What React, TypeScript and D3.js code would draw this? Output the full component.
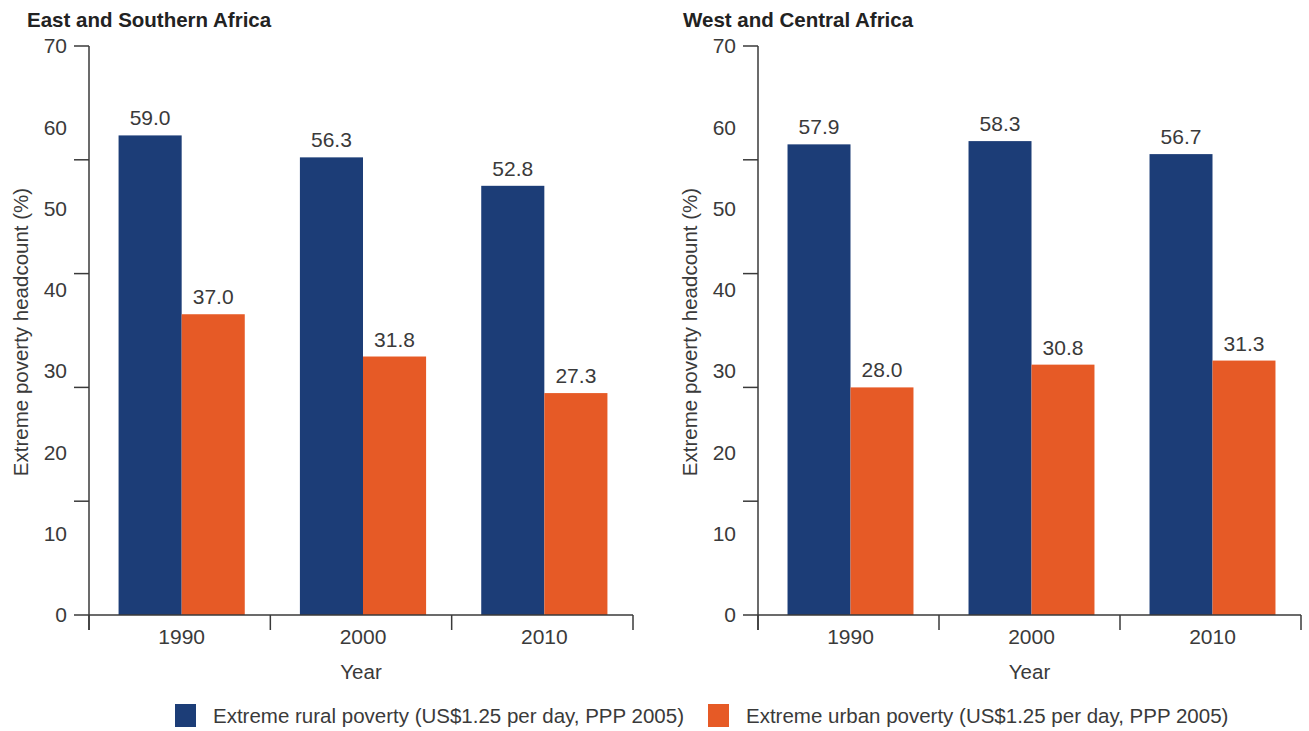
import React from "react";
import * as d3 from "d3";

const years = ["1990", "2000", "2010"];
const seriesNames = [
  "Extreme rural poverty (US$1.25 per day, PPP 2005)",
  "Extreme urban poverty (US$1.25 per day, PPP 2005)",
];
const esaRural = [59.0, 56.3, 52.8];
const esaUrban = [37.0, 31.8, 27.3];
const wcaRural = [57.9, 58.3, 56.7];
const wcaUrban = [28.0, 30.8, 31.3];
const yLabelValues = [0, 10, 20, 30, 40, 50, 60, 70];
const yTickMarkValues = [0, 14, 28, 42, 56, 70];
const colors = ["#1c3d77", "#e65a26"];

const W = 1309;
const H = 731;
const FONT = "'Liberation Sans', Arial, Helvetica, sans-serif";
const TEXT = "#3a3a3a";
const NUM_SIZE = 21;
const TXT_SIZE = 20.5;

type PanelProps = { title: string; titleX: number; rural: number[]; urban: number[]; x0: number; x1: number };

function Panel({ title, titleX, rural, urban, x0, x1 }: PanelProps) {
  const y = d3.scaleLinear().domain([0, 70]).range([615, 46]);
  const x = d3.scaleBand<string>().domain(years).range([x0, x1]).paddingInner(0).paddingOuter(0);
  const inner = d3
    .scaleBand<string>()
    .domain(["rural", "urban"])
    .range([2, x.bandwidth() + 2])
    .paddingOuter(0.437);
  const boundaries = [...years.map((yr) => x(yr) as number), x1];
  const base = y(0);
  return (
    <g>
      <text x={titleX} y={27} fontFamily={FONT} fontWeight="bold" fontSize={TXT_SIZE} fill="#222">
        {title}
      </text>
      {years.map((yr, i) => {
        const vals = [rural[i], urban[i]];
        return (
          <g key={yr}>
            {vals.map((v, j) => {
              const bx = (x(yr) as number) + (inner(j === 0 ? "rural" : "urban") as number);
              return (
                <g key={j}>
                  <rect x={bx} y={y(v)} width={inner.bandwidth()} height={base - y(v)} fill={colors[j]} />
                  <text
                    x={bx + inner.bandwidth() / 2}
                    y={y(v) - 10}
                    textAnchor="middle"
                    fontFamily={FONT}
                    fontSize={NUM_SIZE}
                    fill={TEXT}
                  >
                    {v.toFixed(1)}
                  </text>
                </g>
              );
            })}
          </g>
        );
      })}
      <line x1={x0} x2={x0} y1={y(70)} y2={base + 15} stroke={TEXT} strokeWidth={1.5} />
      {yTickMarkValues.map((t) => (
        <line key={t} x1={x0 - 15} x2={x0} y1={y(t)} y2={y(t)} stroke={TEXT} strokeWidth={1.5} />
      ))}
      {yLabelValues.map((t) => (
        <text
          key={t}
          x={x0 - 22}
          y={y(t)}
          dy="0.35em"
          textAnchor="end"
          fontFamily={FONT}
          fontSize={NUM_SIZE}
          fill={TEXT}
        >
          {t}
        </text>
      ))}
      <text
        transform={`translate(${x0 - 68},${332}) rotate(-90)`}
        textAnchor="middle"
        dy="0.35em"
        fontFamily={FONT}
        fontSize={TXT_SIZE}
        fill={TEXT}
      >
        Extreme poverty headcount (%)
      </text>
      <line x1={x0} x2={x1} y1={base} y2={base} stroke={TEXT} strokeWidth={1.5} />
      {boundaries.map((b, i) => (
        <line key={i} x1={b} x2={b} y1={base} y2={base + 15} stroke={TEXT} strokeWidth={1.5} />
      ))}
      {years.map((yr) => (
        <text
          key={yr}
          x={(x(yr) as number) + x.bandwidth() / 2 + 2}
          y={637}
          dy="0.35em"
          textAnchor="middle"
          fontFamily={FONT}
          fontSize={NUM_SIZE}
          fill={TEXT}
        >
          {yr}
        </text>
      ))}
      <text
        x={(x0 + x1) / 2}
        y={672}
        dy="0.35em"
        textAnchor="middle"
        fontFamily={FONT}
        fontSize={TXT_SIZE}
        fill={TEXT}
      >
        Year
      </text>
    </g>
  );
}

export default function App() {
  const legendX = [175, 708];
  return (
    <svg width={W} height={H} style={{ position: "absolute", left: 0, top: 0, background: "#fff" }}>
      <rect width={W} height={H} fill="#fff" />
      <Panel title="East and Southern Africa" titleX={27} rural={esaRural} urban={esaUrban} x0={89} x1={633} />
      <Panel title="West and Central Africa" titleX={683} rural={wcaRural} urban={wcaUrban} x0={758} x1={1301} />
      {seriesNames.map((name, i) => (
        <g key={name}>
          <rect x={legendX[i]} y={704} width={21} height={23} fill={colors[i]} />
          <text
            x={legendX[i] + 38}
            y={716}
            dy="0.35em"
            fontFamily={FONT}
            fontSize={TXT_SIZE}
            fill={TEXT}
          >
            {name}
          </text>
        </g>
      ))}
    </svg>
  );
}
